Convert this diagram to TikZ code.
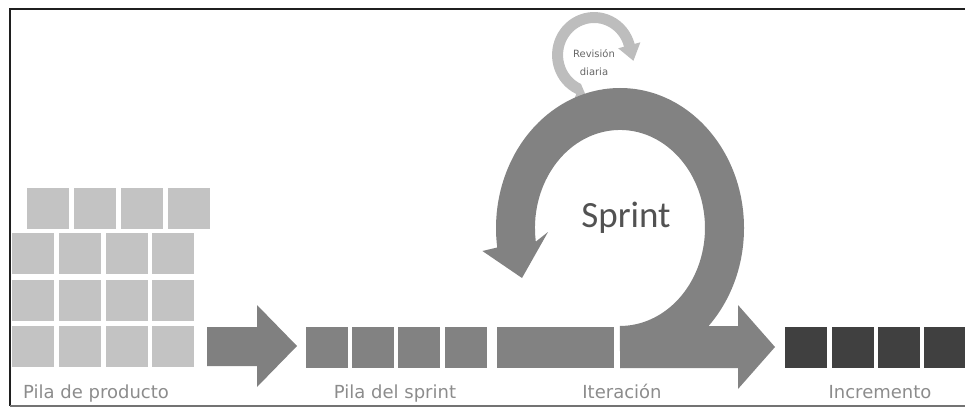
\documentclass[tikz,border=0pt]{standalone}
\usepackage{fontspec}
\setmainfont{DejaVu Sans}
\newfontfamily\sprintfont{Carlito}
\definecolor{backlog}{HTML}{C3C3C3}
\definecolor{flowgray}{HTML}{828282}
\definecolor{donegray}{HTML}{404040}
\definecolor{dailygray}{HTML}{BDBDBD}
\definecolor{labelgray}{HTML}{8C8C8C}
\tikzset{>=latex,
  cell/.style={draw=none, inner sep=0pt, minimum width=42pt, minimum height=41pt, anchor=north west},
  lbl/.style={text=labelgray, anchor=base, inner sep=0pt, font=\fontsize{18}{20}\selectfont}}

\begin{document}
\begin{tikzpicture}[x=1pt,y=-1pt]
\useasboundingbox (0,0) rectangle (965,409);
% frame
\draw[line width=2.5pt, color=black!88] (965,9) -- (10,9) -- (10,406);
\draw[line width=2pt, color=black!55] (10,406) -- (965,406);
% pila de producto
\foreach \c in {0,...,3}
  \node[cell, fill=backlog] (top-\c) at ({27+47*\c},188) {};
\foreach \r in {0,1,2}
  \foreach \c in {0,...,3}
    \node[cell, fill=backlog] (pp-\r-\c) at ({12+46.7*\c},{233+46.5*\r}) {};
% first arrow
\fill[color=black!50] (207,327) -- (257,327) -- (257,305) -- (297,346)
  -- (257,387) -- (257,366) -- (207,366) -- cycle;
% pila del sprint and iteracion
\foreach \c in {0,...,3}
  \node[cell, fill=flowgray] (ps-\c) at ({306+46.1*\c},327) {};
\node[cell, fill=flowgray, minimum width=117pt] (it) at (497,327) {};
% incremento
\foreach \c in {0,...,3}
  \node[cell, fill=donegray] (inc-\c) at ({785+46.3*\c},327) {};
% revision diaria
\fill[color=dailygray] (570,110) -- (576.3,94)
  arc[start angle=115, end angle=345, x radius=42, y radius=43]
  -- (640.4,42.3) -- (633.4,60.8) -- (618.2,48.3) -- (624,46.7)
  arc[start angle=345, end angle=115, x radius=31, y radius=32]
  -- (592,110) -- cycle;
% sprint ring and arrow
\fill[color=flowgray] (620,326) -- (738,326) -- (738,305) -- (775,347)
  -- (738,389) -- (738,368) -- (620,368) -- cycle;
\fill[color=flowgray] (620,368)
  arc[start angle=90, end angle=-188, x radius=124, y radius=140]
  -- (482.4,251) -- (522,278) -- (548,232) -- (535.8,241.6)
  arc[start angle=-188, end angle=90, x radius=85, y radius=98]
  -- cycle;
% texts
\node[text=black!68, anchor=base, inner sep=0pt, font=\sprintfont\fontsize{37}{40}\selectfont] (sprint) at (626,227) {Sprint};
\node[text=black!60, align=center, inner sep=0pt, font=\fontsize{10}{18}\selectfont] (revision) at (594,63) {Revisión\\diaria};
\node[lbl, anchor=base west] (pilaprod) at (23,398) {Pila de producto};
\node[lbl] (pilasprint) at (395,398) {Pila del sprint};
\node[lbl] (iter) at (622,398) {Iteración};
\node[lbl] (incr) at (880,398) {Incremento};
\end{tikzpicture}
\end{document}
